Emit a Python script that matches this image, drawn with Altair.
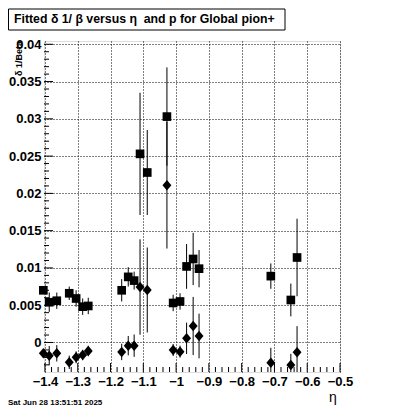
import altair as alt
import pandas as pd

# ---- data ----
eta = [-1.405, -1.387, -1.364, -1.326, -1.305, -1.285, -1.268, -1.166, -1.146, -1.128,
       -1.110, -1.088, -1.028, -1.009, -0.988, -0.968, -0.948, -0.930, -0.711, -0.650, -0.631]
sq = [0.0070, 0.0054, 0.0056, 0.0066, 0.0059, 0.0048, 0.0049, 0.0070, 0.0088, 0.0083,
      0.0253, 0.0228, 0.0303, 0.0053, 0.0055, 0.0102, 0.0112, 0.0099, 0.0089, 0.0057, 0.0114]
sq_err = [0.0013, 0.0013, 0.0011, 0.0009, 0.0011, 0.0011, 0.0011, 0.0015, 0.0013, 0.0012,
          0.0082, 0.0057, 0.0066, 0.0011, 0.0011, 0.0030, 0.0035, 0.0025, 0.0017, 0.0022, 0.0052]
dm = [-0.00145, -0.00177, -0.00145, -0.00266, -0.00199, -0.00168, -0.00114, -0.00127, -0.00043, -0.00043,
      0.00744, 0.00704, 0.0211, -0.00101, -0.00123, 0.00056, 0.00221, 0.00087, -0.00271, -0.00302, -0.00131]
dm_err = [0.0015, 0.0013, 0.0011, 0.0009, 0.0008, 0.0007, 0.0007, 0.0011, 0.0013, 0.0015,
          0.0064, 0.0057, 0.0085, 0.0008, 0.0008, 0.0021, 0.0039, 0.0030, 0.0020, 0.0015, 0.0035]

x_major = [-1.4, -1.3, -1.2, -1.1, -1.0, -0.9, -0.8, -0.7, -0.6, -0.5]
y_major = [0.0, 0.005, 0.01, 0.015, 0.02, 0.025, 0.03, 0.035, 0.04]
x_minor = [round(-1.4 + i * 0.02, 3) for i in range(46) if i % 5 != 0]
y_minor = [round(-0.003 + i * 0.001, 3) for i in range(44) if round(-0.003 + i * 0.001, 3) not in y_major]

title_text = "Fitted δ 1/ β versus η\u00a0 and p for Global pion+"
y_title = "δ 1/Beta"
x_title = "η"
date_text = "Sat Jun 28 13:51:51 2025"

W, H = 296, 331
FONT = "Liberation Sans"

df = pd.DataFrame({"eta": eta, "sq": sq, "sq_err": sq_err, "dm": dm, "dm_err": dm_err})

xs = alt.Scale(domain=[-1.403, -0.5], nice=False, zero=False)
ys = alt.Scale(domain=[-0.00396, 0.04044], nice=False, zero=False)

common_axis = dict(format="~g", labelFont=FONT, labelFontWeight="bold", labelFontSize=13,
                   labelColor="black", ticks=False, domain=False, grid=True, gridColor="black",
                   gridDash=[1, 2], gridWidth=1, gridOpacity=1, title=None,
                   labelFlush=False, labelOverlap=False, labelPadding=3)
xa = alt.Axis(values=x_major, **common_axis)
ya = alt.Axis(values=y_major, **common_axis)

X = lambda f: alt.X(f, type="quantitative", scale=xs, axis=xa)
Y = lambda f: alt.Y(f, type="quantitative", scale=ys, axis=ya)

base = alt.Chart(df)

sq_bars = base.transform_calculate(lo="datum.sq - datum.sq_err", hi="datum.sq + datum.sq_err").mark_rule(
    color="black", strokeWidth=1, clip=True).encode(x=X("eta"), y=Y("lo"), y2="hi:Q")
dm_bars = base.transform_calculate(lo="datum.dm - datum.dm_err", hi="datum.dm + datum.dm_err").mark_rule(
    color="black", strokeWidth=1, clip=True).encode(x=X("eta"), y=Y("lo"), y2="hi:Q")

sq_pts = base.mark_point(shape="square", filled=True, size=75, color="black", opacity=1,
                         strokeWidth=0).encode(x=X("eta"), y=Y("sq"))
dm_pts = base.mark_point(shape="M-0.85,0L0,-1L0.85,0L0,1Z", filled=True, size=110, color="black",
                         opacity=1, strokeWidth=0).encode(x=X("eta"), y=Y("dm"))

# inward ticks (ROOT style)
xmaj = alt.Chart(pd.DataFrame({"v": x_major})).mark_rule(color="black").encode(
    x=X("v"), y=alt.value(H), y2=alt.value(H - 9))
xmin = alt.Chart(pd.DataFrame({"v": x_minor})).mark_rule(color="black").encode(
    x=X("v"), y=alt.value(H), y2=alt.value(H - 5))
ymaj = alt.Chart(pd.DataFrame({"v": y_major})).mark_rule(color="black").encode(
    y=Y("v"), x=alt.value(0), x2=alt.value(9))
ymin = alt.Chart(pd.DataFrame({"v": y_minor})).mark_rule(color="black").encode(
    y=Y("v"), x=alt.value(0), x2=alt.value(5))

# annotations
tbox = alt.Chart(pd.DataFrame({"t": [title_text]})).mark_rect(
    fill="white", stroke="black", strokeWidth=1).encode(
    x=alt.value(-35.5), x2=alt.value(241), y=alt.value(-32), y2=alt.value(-11))
ttext = alt.Chart(pd.DataFrame({"t": [title_text]})).mark_text(
    font=FONT, fontWeight="bold", fontSize=12.3, align="left", baseline="alphabetic", color="black").encode(
    x=alt.value(-30), y=alt.value(-18), text="t:N")
ytext = alt.Chart(pd.DataFrame({"t": [y_title]})).mark_text(
    font=FONT, fontWeight="bold", fontSize=9, angle=270, align="right", baseline="middle", color="black").encode(
    x=alt.value(-25), y=alt.value(0), text="t:N")
xtext = alt.Chart(pd.DataFrame({"t": [x_title]})).mark_text(
    font=FONT, fontSize=14, align="center", baseline="alphabetic", color="black").encode(
    x=alt.value(289), y=alt.value(361), text="t:N")
dtext = alt.Chart(pd.DataFrame({"t": [date_text]})).mark_text(
    font=FONT, fontWeight="bold", fontSize=8, align="left", baseline="alphabetic", color="black").encode(
    x=alt.value(-36), y=alt.value(364), text="t:N")

chart = alt.layer(
    xmin, xmaj, ymin, ymaj, sq_bars, dm_bars, sq_pts, dm_pts, tbox, ttext, ytext, xtext, dtext
).properties(
    width=W, height=H,
    autosize=alt.AutoSizeParams(type="none"),
    padding={"left": 36, "top": 33, "right": 52, "bottom": 34},
).configure_view(stroke="black", strokeWidth=1).configure(background="white")

chart.save("out.html", embed_options={"renderer": "svg", "actions": False})
